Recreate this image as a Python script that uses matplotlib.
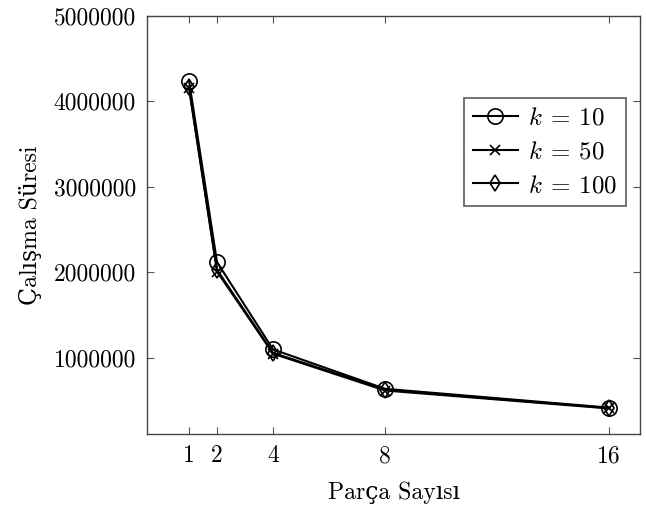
import matplotlib
matplotlib.use("Agg")
import matplotlib.pyplot as plt
from matplotlib.ticker import FixedLocator, FuncFormatter

plt.rcParams['font.family'] = ['cmr10', 'DejaVu Serif']
plt.rcParams['mathtext.fontset'] = 'cm'
plt.rcParams['axes.formatter.use_mathtext'] = True

# data
parca = [1, 2, 4, 8, 16]
k10 = [4240000, 2120000, 1100000, 640000, 420000]
k50 = [4150000, 2010000, 1050000, 620000, 410000]
k100 = [4170000, 2030000, 1060000, 630000, 415000]
yticks = [1000000, 2000000, 3000000, 4000000, 5000000]

fig = plt.figure(figsize=(6.46, 5.18), dpi=100)
ax = fig.add_axes([147/646, 1 - 434/518, 493/646, 418.4/518])

ax.plot(parca, k10, color='black', lw=1.5, marker='o', ms=11, mfc='none', mew=1.2, label=r'$k\:=\:10$')
ax.plot(parca, k50, color='black', lw=1.5, marker='x', ms=7, mew=1.2, label=r'$k\:=\:50$')
ax.plot(parca, k100, color='black', lw=1.5, marker='d', ms=8, mfc='none', mew=1.2, label=r'$k\:=\:100$')

ax.set_xlim(-0.5, 17.1)
ax.set_ylim(112000, 5000000)
ax.xaxis.set_major_locator(FixedLocator(parca))
ax.yaxis.set_major_locator(FixedLocator(yticks))
ax.yaxis.set_major_formatter(FuncFormatter(lambda v, p: '%d' % v))
ax.xaxis.set_major_formatter(FuncFormatter(lambda v, p: '%d' % v))
ax.tick_params(direction='in', length=5, width=0.8, color='#555555',
               top=True, right=True, labelsize=17, pad=8)
for s in ax.spines.values():
    s.set_color('#444444')
    s.set_linewidth(1.0)

ax.set_xlabel('Parça Sayısı', fontsize=17, labelpad=10)
ax.set_ylabel('Çalışma Süresi', fontsize=17, labelpad=8)

leg = ax.legend(loc='upper right', bbox_to_anchor=(0.972, 0.802), fontsize=18,
                frameon=True, fancybox=False, edgecolor='#333333',
                handlelength=1.8, handletextpad=0.4, borderpad=0.35,
                labelspacing=0.45, borderaxespad=0)
leg.get_frame().set_linewidth(1.2)

fig.savefig('out.png', dpi=100)
